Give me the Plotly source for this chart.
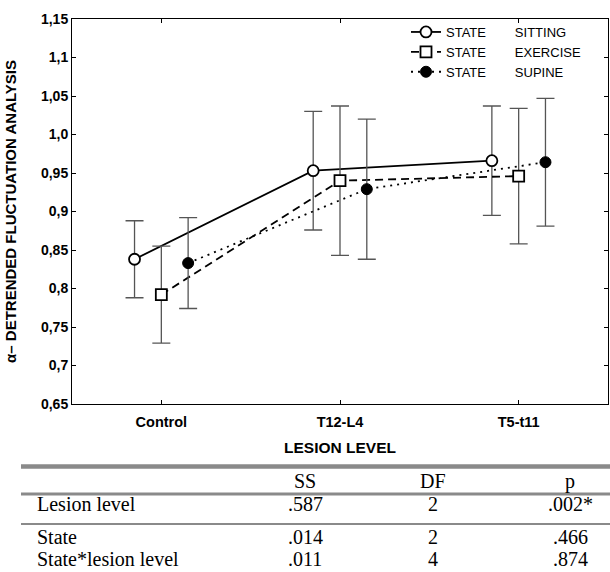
import numpy as np
import plotly.graph_objects as go

# ---------------- data ----------------
categories = ["Control", "T12-L4", "T5-t11"]
states = ["SITTING", "EXERCISE", "SUPINE"]

sitting = [0.838, 0.953, 0.966]
sitting_err = [0.050, 0.077, 0.071]
exercise = [0.792, 0.940, 0.946]
exercise_err = [0.063, 0.097, 0.088]
supine = [0.833, 0.929, 0.964]
supine_err = [0.059, 0.091, 0.083]

y_tickvals = [0.65, 0.70, 0.75, 0.80, 0.85, 0.90, 0.95, 1.00, 1.05, 1.10, 1.15]
y_ticktext = ["0,65", "0,7", "0,75", "0,8", "0,85", "0,9", "0,95", "1,0", "1,05", "1,1", "1,15"]

table_header = ["", "SS", "DF", "p"]
table_effects = ["Lesion level", "State", "State*lesion level"]
table_ss = [".587", ".014", ".011"]
table_df = ["2", "2", "4"]
table_p = [".002*", ".466", ".874"]

# ---------------- figure ----------------
W, H = 610, 572
L, R, T, B = 72, 2, 19, 168
PW, PH = W - L - R, H - T - B

def px_x(px):
    return (px - L) / PW

def px_y(py):
    return (H - B - py) / PH

base = np.arange(len(categories))
offsets = [-0.15, 0.0, 0.15]

series = [
    (sitting, sitting_err, dict(symbol="circle", color="white", size=11,
                                line=dict(color="black", width=1.8)),
     dict(color="black", width=1.8, dash="solid")),
    (exercise, exercise_err, dict(symbol="square", color="white", size=11,
                                  line=dict(color="black", width=1.8)),
     dict(color="black", width=1.8, dash="8px,5px")),
    (supine, supine_err, dict(symbol="circle", color="black", size=11,
                              line=dict(color="black", width=1)),
     dict(color="black", width=1.8, dash="2px,5px")),
]

fig = go.Figure()
for (vals, errs, mk, ln), name, off in zip(series, states, offsets):
    fig.add_trace(go.Scatter(
        x=base + off, y=vals, mode="lines+markers",
        name="STATE" + "\u00a0" * 8 + name,
        marker=mk, line=ln,
        error_y=dict(type="data", array=errs, visible=True,
                     color="#555555", thickness=1.3, width=9),
    ))

fig.update_layout(
    width=W, height=H,
    margin=dict(l=L, r=R, t=T, b=B, pad=0),
    paper_bgcolor="white", plot_bgcolor="white",
    font=dict(family="Liberation Sans, Arial, sans-serif", color="black", size=13),
    showlegend=True,
    legend=dict(x=px_x(406), y=px_y(17), xanchor="left", yanchor="top",
                bgcolor="rgba(0,0,0,0)", borderwidth=0,
                font=dict(family="Liberation Sans, Arial, sans-serif", size=13),
                itemwidth=30, tracegroupgap=0),
    xaxis=dict(range=[-0.5, 2.5], tickvals=list(base), ticktext=categories,
               showgrid=False, zeroline=False, showline=True, linecolor="black",
               linewidth=1, mirror="allticks", ticks="inside", ticklen=4,
               tickcolor="black", ticklabelstandoff=5,
               tickfont=dict(family="Liberation Sans, Arial, sans-serif", size=14.5,
                             weight="bold"),
               title=dict(text="LESION LEVEL", standoff=12,
                          font=dict(size=15.5, weight="bold"))),
    yaxis=dict(range=[0.65, 1.15], tickvals=y_tickvals, ticktext=y_ticktext,
               showgrid=False, zeroline=False, showline=True, linecolor="black",
               linewidth=1, mirror="allticks", ticks="inside", ticklen=4,
               tickcolor="black",
               tickfont=dict(family="Liberation Sans, Arial, sans-serif", size=14,
                             weight="bold"),
               title=dict(text="\u03b1\u2013 DETRENDED FLUCTUATION ANALYSIS",
                          standoff=20, font=dict(size=15, weight="bold"))),
)

# ---------------- ANOVA table below the chart ----------------
line_specs = [(466.5, 4.5, "#8a8a8a"), (494, 3, "#8a8a8a"), (524, 2, "#8a8a8a")]
for py, lw, col in line_specs:
    fig.add_shape(type="line", xref="paper", yref="paper",
                  x0=px_x(21), x1=px_x(610), y0=px_y(py), y1=px_y(py),
                  line=dict(color=col, width=lw))

serif = dict(family="Liberation Serif, Times New Roman, serif", size=20, color="black")
col_x = [35, 305, 433, 570]
header_y = 481
row_y = [504, 537, 559]

for cx, txt in zip(col_x, table_header):
    if txt:
        fig.add_annotation(xref="paper", yref="paper", x=px_x(cx), y=px_y(header_y),
                           text=txt, showarrow=False, font=serif,
                           xanchor="center", yanchor="middle")

columns = [table_effects, table_ss, table_df, table_p]
for ci, (cx, col) in enumerate(zip(col_x, columns)):
    for ry, txt in zip(row_y, col):
        fig.add_annotation(xref="paper", yref="paper", x=px_x(cx), y=px_y(ry),
                           text=txt, showarrow=False, font=serif,
                           xanchor="left" if ci == 0 else "center",
                           yanchor="middle")

fig.write_html("out.html",
               config={"displayModeBar": False},
               post_script="document.body.style.margin='0';document.body.style.overflow='hidden';")
